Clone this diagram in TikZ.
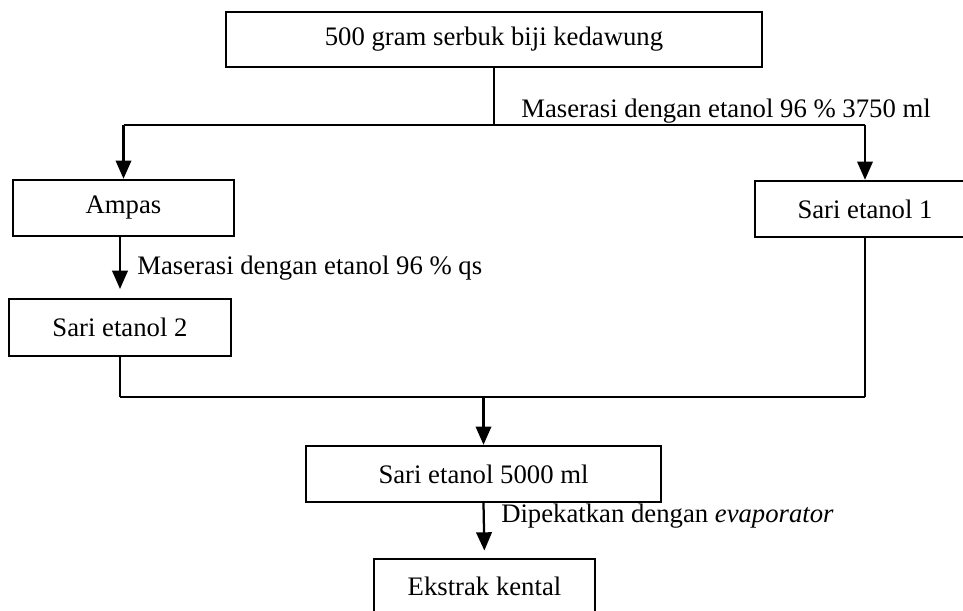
\documentclass[tikz,border=0pt]{standalone}
\usepackage{fontspec}
\setmainfont{Liberation Serif}
\usetikzlibrary{arrows.meta,positioning}
\tikzset{>={Triangle[length=13pt,width=11pt]}}

\begin{document}
\begin{tikzpicture}[x=1cm,y=1cm,
                    mybox/.style={draw, line width=1.7pt, inner sep=0pt, font=\fontsize{19}{23}\selectfont},
                    mytext/.style={inner sep=0pt, anchor=base west, font=\fontsize{19}{23}\selectfont},
                    myarrow/.style={line width=1.6pt, ->},
                    mythin/.style={line width=0.8pt},
                    mymid/.style={line width=1.1pt},
                    mythick/.style={line width=1.9pt},
                   ]
\useasboundingbox (0,0) rectangle (24.075,15.275);

\node[mybox, minimum width=13.4cm, minimum height=1.375cm] (serbuk) at (12.35,14.2875) {500 gram serbuk biji kedawung};
\node[mybox, minimum width=5.525cm, minimum height=1.4cm] (ampas) at (3.0875,10.075) {Ampas};
\node[mybox, minimum width=5.5cm, minimum height=1.4cm] (sari1) at (21.625,10.05) {Sari etanol 1};
\node[mybox, minimum width=5.55cm, minimum height=1.425cm] (sari2) at (3.0,7.0875) {Sari etanol 2};
\node[mybox, minimum width=8.875cm, minimum height=1.4cm] (total) at (12.0875,3.425) {Sari etanol 5000 ml};
\node[mybox, minimum width=5.525cm, minimum height=1.375cm] (ekstrak) at (12.1125,0.6125) {Ekstrak kental};

\coordinate (bagi) at (12.35,12.15);
\coordinate (gabung) at (12.05,5.35);

\draw[mythin] (serbuk.south) -- (serbuk.south |- bagi);
\draw[mymid] (ampas.north |- bagi) -- (sari1.north |- bagi);
\draw[myarrow] (ampas.north |- bagi) -- (ampas.north);
\draw[myarrow] (sari1.north |- bagi) -- (sari1.north);
\node[mytext] (maserasi1) at (13.025,12.325) {Maserasi dengan etanol 96 \% 3750 ml};

\draw[myarrow, shorten >=0.22cm] (sari2.north |- ampas.south) -- (sari2.north);
\node[mytext] (maserasi2) at (3.425,8.4) {Maserasi dengan etanol 96 \% qs};

\draw[mythin] (sari2.south) -- (sari2.south |- gabung);
\draw[mythin] (sari1.south) -- (sari1.south |- gabung);
\draw[mythick] (sari2.south |- gabung) -- (sari1.south |- gabung);
\draw[myarrow] (total.north |- gabung) -- (total.north);

\draw[myarrow, shorten >=0.18cm] (total.south) -- (ekstrak.north);
\node[mytext] (pekat) at (12.525,2.2) {Dipekatkan dengan \textit{evaporator}};

\end{tikzpicture}
\end{document}
